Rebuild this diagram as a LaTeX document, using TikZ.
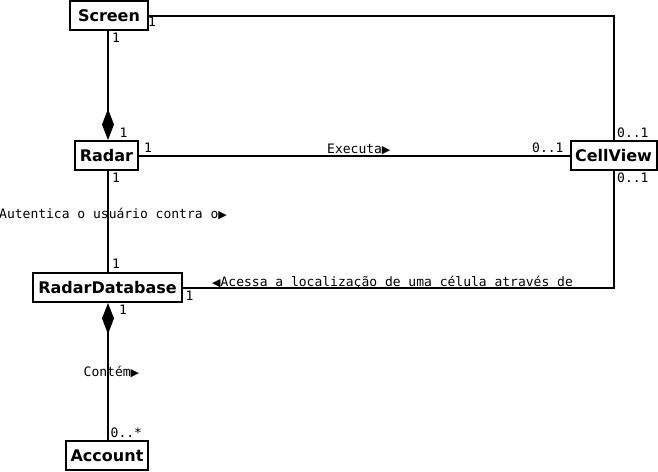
\documentclass[tikz,border=0pt]{standalone}
\usepackage{fontspec}
\setmainfont{DejaVu Sans}
\newfontfamily\monof{DejaVu Sans Mono}
\newfontfamily\trif{DejaVu Sans}
\usetikzlibrary{arrows.meta}
\begin{document}
\begin{tikzpicture}[x=1pt,y=-1pt,
  cls/.style={draw,line width=2pt,fill=white,minimum height=29pt,inner sep=0pt,font=\fontsize{16}{18}\selectfont\bfseries},
  conn/.style={line width=2pt},
  comp/.style={line width=2pt,{Diamond[length=31pt,width=12pt]}-},
  mult/.style={anchor=base west,inner sep=0pt,font=\monof\fontsize{13}{15}\selectfont},
  alab/.style={anchor=base west,inner sep=0pt,font=\monof\fontsize{13}{15}\selectfont}]
\useasboundingbox (0,0) rectangle (658,471);
\node[cls,minimum width=78pt] (screen) at (109,15.5) {Screen};
\node[cls,minimum width=63pt] (radar) at (106.5,155.5) {Radar};
\node[cls,minimum width=86pt] (cell) at (613.5,155.5) {CellView};
\node[cls,minimum width=149pt] (db) at (107.5,287.5) {RadarDatabase};
\node[cls,minimum width=82pt] (acc) at (107,455.5) {Account};
\coordinate (vx) at (108,0);
% connectors
\draw[conn] (screen.east) -| (cell.north);
\draw[comp] (vx |- radar.north) -- (vx |- screen.south);
\draw[conn] (radar.east) -- (cell.west);
\draw[conn] (vx |- radar.south) -- (vx |- db.north);
\draw[conn] (cell.south) |- (db.east);
\draw[comp] (vx |- db.south) -- (vx |- acc.north);
% multiplicities
\node[mult] (m1) at (148,27) {1};
\node[mult] (m2) at (112,42) {1};
\node[mult] (m3) at (119.5,137) {1};
\node[mult] (m4) at (144,152) {1};
\node[mult] (m5) at (112,182) {1};
\node[mult] (m6) at (532,152) {0..1};
\node[mult] (m7) at (617,137) {0..1};
\node[mult] (m8) at (617,182) {0..1};
\node[mult] (m9) at (112,268) {1};
\node[mult] (m10) at (185.5,300) {1};
\node[mult] (m11) at (119,314) {1};
\node[mult] (m12) at (110.5,437) {0..*};
% association labels
\node[alab] (l1) at (327,153) {Executa{\trif\fontsize{11}{12}\selectfont ▶}};
\node[alab] (l2) at (-1,218.5) {Autentica o usuário contra o{\trif\fontsize{11}{12}\selectfont ▶}};
\node[alab] (l3) at (212,286) {{\trif\fontsize{11}{12}\selectfont ◀}Acessa a localização de uma célula através de};
\node[alab] (l4) at (83.5,376.5) {Contém{\trif\fontsize{11}{12}\selectfont ▶}};
\end{tikzpicture}
\end{document}
